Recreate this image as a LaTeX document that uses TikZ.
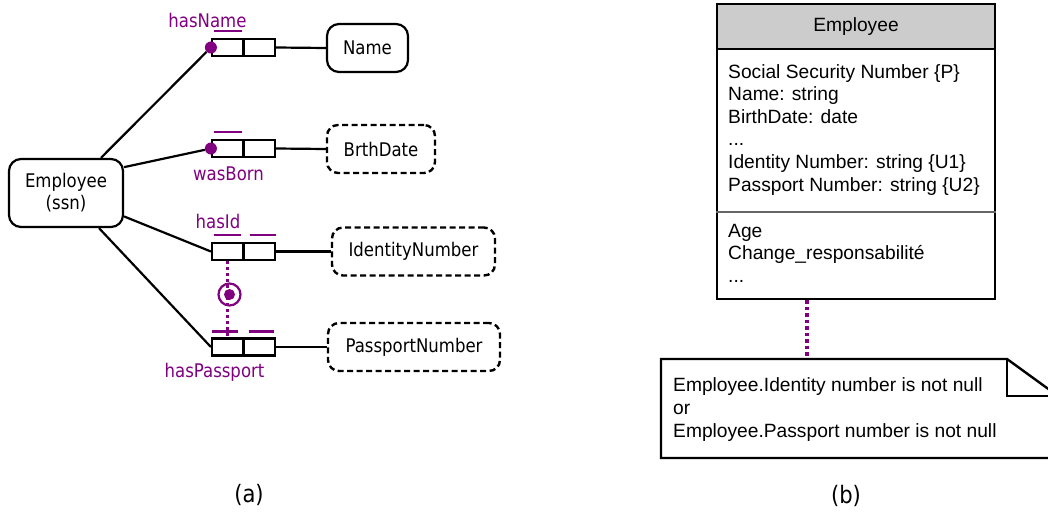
\documentclass[tikz,border=0pt]{standalone}
\usepackage{fontspec}
\setmainfont{Liberation Sans}
\newfontfamily\erfont[FakeStretch=0.88]{DejaVu Sans}
\usetikzlibrary{calc}
\definecolor{rolepurple}{RGB}{128,0,128}
\tikzset{
  erline/.style={line width=2.2pt},
  erfontsize/.style={font=\erfont\fontsize{18.8}{22}\selectfont},
  entity/.style={draw, line width=2.2pt, rounded corners=12pt, inner sep=0pt,
    align=center, erfontsize},
  valuebox/.style={draw, line width=2.4pt, dash pattern=on 6pt off 3.5pt,
    rounded corners=11pt, inner sep=0pt, minimum height=48pt, erfontsize},
  rolebox/.style={draw, line width=2.2pt, minimum width=63pt, minimum height=17pt,
    inner sep=0pt},
  roledot/.style={circle, fill=rolepurple, minimum size=12pt, inner sep=0pt},
  rolelabel/.style={text=rolepurple, erfontsize, inner sep=0pt, anchor=base},
  uniq/.style={draw=rolepurple, line width=2.2pt},
  exclink/.style={draw=rolepurple, line width=3pt, dash pattern=on 3pt off 3pt},
  umltext/.style={font=\fontsize{19.2}{22.6}\selectfont, inner sep=0pt, anchor=base west},
  umltitle/.style={font=\fontsize{19.2}{22.6}\selectfont, inner sep=0pt, anchor=base},
  notelink/.style={draw=rolepurple, line width=3.5pt, dash pattern=on 3.5pt off 3pt},
  caption/.style={font=\erfont\fontsize{24}{28}\selectfont, inner sep=0pt},
}
\begin{document}
\begin{tikzpicture}[x=1pt, y=-1pt]
\useasboundingbox (0,0) rectangle (1048,511);
\begin{scope}
\clip (0,0) rectangle (1048,511);

% ---------- ORM schema ----------
\node[entity, minimum width=114pt, minimum height=68pt] (emp) at (66,193) {Employee\\(ssn)};

% role boxes
\node[rolebox] (rn) at (243.5,47.5) {};
\node[rolebox] (rb) at (243.5,148.5) {};
\node[rolebox] (ri) at (243.5,251.5) {};
\node[rolebox] (rp) at (243.5,347) {};
\foreach \r in {rn,rb,ri,rp} \draw[erline] (\r.north) -- (\r.south);

% mandatory dots
\node[roledot] (dn) at (rn.west) {};
\node[roledot] (db) at (rb.west) {};

% value types
\node[entity, minimum width=81pt, minimum height=48pt] (name) at (367.5,48) {Name};
\node[valuebox, minimum width=108pt] (birth) at (381,149) {BrthDate};
\node[valuebox, minimum width=163pt] (idn) at (413.5,251.5) {IdentityNumber};
\node[valuebox, minimum width=172pt] (ppn) at (414,347) {PassportNumber};

% connectors
\draw[erline] (emp) -- (dn);
\draw[erline] (emp.24) -- (db);
\draw[erline] (emp) -- (ri.west);
\draw[erline] (emp) -- (rp.west);
\draw[erline] (rn.east) -- (name.west);
\draw[erline] (rb.east) -- (birth.west);
\draw[erline] (ri.east) -- (idn.west);
\draw[erline] (rp.east) -- (ppn.west);

% role names
\node[rolelabel] (lhn) at (207.5,28) {hasName};
\node[rolelabel] (lwb) at (228.5,180) {wasBorn};
\node[rolelabel] (lhi) at (218,228) {hasId};
\node[rolelabel] (lhp) at (214.5,377) {hasPassport};

% uniqueness bars
\draw[uniq] ($(rn.north west)+(3,-7)$) -- ($(rn.north)+(-2,-7)$);
\draw[uniq] ($(rb.north west)+(3,-7)$) -- ($(rb.north)+(-2,-7)$);
\draw[uniq] ($(ri.north west)+(3,-7)$) -- ($(ri.north)+(-3,-7)$);
\draw[uniq] ($(ri.north)+(6,-7)$) -- ($(ri.north east)+(0,-7)$);
\draw[uniq] ($(rp.north west)+(1,-6)$) -- ($(rp.north)+(-6,-6)$);
\draw[uniq] ($(rp.north)+(5,-6)$) -- ($(rp.north east)+(-2,-6)$);

% inclusive-or constraint
\coordinate (xa) at ($(ri.south west)+(17,0)$);
\coordinate (xb) at ($(rp.north west)+(17,0)$);
\draw[exclink] (xa) -- (xb);
\node[circle, draw=rolepurple, line width=2.2pt, minimum size=22pt, inner sep=0pt] (ring) at (229.5,294.5) {};
\node[circle, fill=rolepurple, minimum size=11pt, inner sep=0pt] (ringdot) at (ring) {};

\node[caption] (capa) at (249,495) {(a)};

% ---------- UML class ----------
\node[draw, fill=black!20, line width=2.4pt, minimum width=278pt, minimum height=45pt, inner sep=0pt] (hdr) at (856,26.5) {};
\node[draw, line width=2.6pt, minimum width=278pt, minimum height=295pt, inner sep=0pt] (cls) at (856,151.5) {};
\coordinate (divy) at (0,212);
\draw[line width=1.4pt, black!60] (cls.west |- divy) -- (cls.east |- divy);

\node[umltitle] (ttl) at (856,32) {Employee};
\node[umltext] (a1) at (728,78) {Social Security Number \{P\}};
\node[umltext] (a2) at (728,100.6) {Name: string};
\node[umltext] (a3) at (728,123.2) {BirthDate: date};
\node[umltext] (a4) at (728,145.8) {...};
\node[umltext] (a5) at (728,168.4) {Identity Number: string \{U1\}};
\node[umltext] (a6) at (728,191) {Passport Number: string \{U2\}};
\node[umltext] (o1) at (728,237) {Age};
\node[umltext] (o2) at (728,259.6) {Change\_responsabilité};
\node[umltext] (o3) at (728,282.2) {...};

% note
\draw[line width=2.4pt, fill=white] (661,359) -- (1007,359) -- (1058,396) -- (1058,458) -- (661,458) -- cycle;
\draw[line width=1.4pt] (1007,359) -- (1007,396) -- (1058,396);
\node[inner sep=0pt, minimum width=397pt, minimum height=99pt] (note) at (859.5,408.5) {};
\node[umltext] (n1) at (673,391) {Employee.Identity number is not null};
\node[umltext] (n2) at (673,414) {or};
\node[umltext] (n3) at (673,437) {Employee.Passport number is not null};

\coordinate (lk) at (807,0);
\draw[notelink] (cls.south -| lk) -- (note.north -| lk);

\node[caption] (capb) at (846,496) {(b)};
\end{scope}
\end{tikzpicture}
\end{document}
